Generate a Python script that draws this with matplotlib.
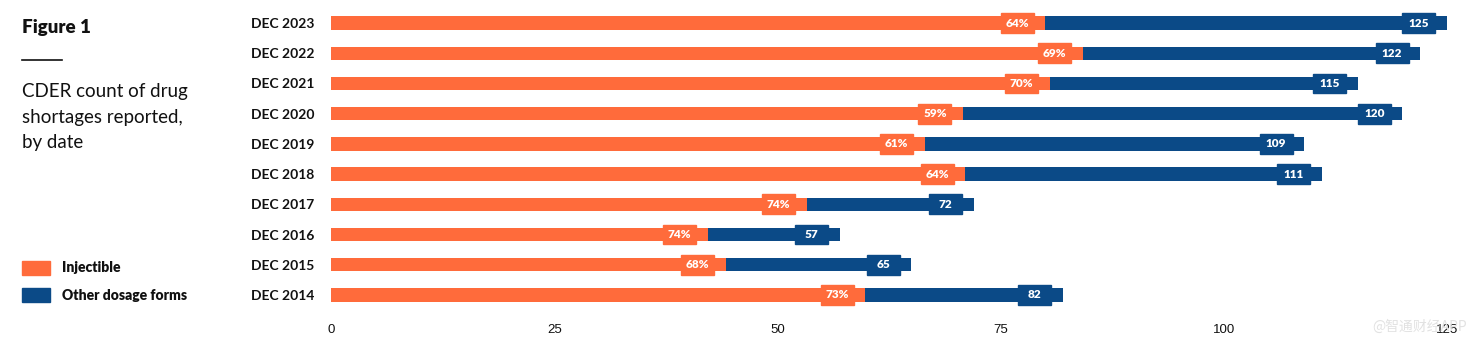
import numpy as np
import matplotlib.pyplot as plt
from matplotlib.patches import Rectangle

# data, bottom to top
years = ['DEC 2014', 'DEC 2015', 'DEC 2016', 'DEC 2017', 'DEC 2018',
         'DEC 2019', 'DEC 2020', 'DEC 2021', 'DEC 2022', 'DEC 2023']
totals = [82, 65, 57, 72, 111, 109, 120, 115, 122, 125]
inj_pct = [73, 68, 74, 74, 64, 61, 59, 70, 69, 64]
ticks = [0, 25, 50, 75, 100, 125]

orange = '#FF6B3B'
blue = '#0B4A87'
dark = '#111111'

totals = np.array(totals, dtype=float)
injectible = totals * np.array(inj_pct) / 100.0
other = totals - injectible
y = np.arange(len(years))

plt.rcParams['font.family'] = ['Lato', 'DejaVu Sans']

W, H = 1477, 345
fig = plt.figure(figsize=(W / 100, H / 100), dpi=100)

x0, x125 = 331, 1447
ppu = (x125 - x0) / 125
xmax = 127
ax = fig.add_axes([x0 / W, 35 / H, (xmax * ppu) / W, 302 / H])

bh = 0.44
ax.barh(y, injectible, height=bh, color=orange, zorder=2)
ax.barh(y, other, left=injectible, height=bh, color=blue, zorder=2)

box_w = 3.7
box_h = 0.66
gap = 1.3
for yi, inj, tot, p in zip(y, injectible, totals, inj_pct):
    r = inj - gap
    ax.add_patch(Rectangle((r - box_w, yi - box_h / 2), box_w, box_h,
                           color=orange, zorder=3))
    ax.text(r - box_w / 2, yi, f'{p}%', color='white', fontsize=8.5,
            fontweight='heavy', ha='center', va='center', zorder=4)
    r = tot - gap
    ax.add_patch(Rectangle((r - box_w, yi - box_h / 2), box_w, box_h,
                           color=blue, zorder=3))
    ax.text(r - box_w / 2, yi, f'{int(tot)}', color='white', fontsize=8.5,
            fontweight='heavy', ha='center', va='center', zorder=4)

ax.set_xlim(0, xmax)
ax.set_ylim(-0.5, len(years) - 0.5)
ax.set_xticks(ticks)
ax.set_xticklabels([str(t) for t in ticks], fontsize=9.5, color=dark,
                   family=['Liberation Sans Narrow', 'Liberation Sans', 'DejaVu Sans'])
ax.set_yticks(y)
ax.set_yticklabels(years, fontsize=10, fontweight='bold', color=dark)
for lab in ax.get_yticklabels():
    lab.set_ha('left')
ax.tick_params(axis='y', length=0, pad=(x0 - 251) * 0.72)
ax.tick_params(axis='x', length=0, pad=(330 - 310 - 6) * 0.72)
for s in ax.spines.values():
    s.set_visible(False)

# left panel
fig.text(22 / W, 1 - 28 / H, 'Figure 1', fontsize=13.5, fontweight='heavy',
         color=dark, ha='left', va='center')
fig.add_artist(plt.Line2D([22 / W, 62 / W], [1 - 60 / H, 1 - 60 / H],
                          color=dark, lw=1.2))
fig.text(22 / W, 1 - 83 / H, 'CDER count of drug\nshortages reported,\nby date',
         fontsize=13.5, color=dark, ha='left', va='top', linespacing=1.62)

for i, (lab, col) in enumerate([('Injectible', orange), ('Other dosage forms', blue)]):
    yc = 268 + i * 27
    fig.add_artist(Rectangle((22 / W, 1 - (yc + 7) / H), 28 / W, 14 / H,
                             color=col, transform=fig.transFigure))
    fig.text(62 / W, 1 - yc / H, lab, fontsize=10, fontweight='heavy',
             color=dark, ha='left', va='center')

fig.text(1467 / W, 1 - 327 / H, '@智通财经APP', fontsize=10, color='#e2e2e2',
         ha='right', va='center', family=['Noto Sans CJK SC', 'DejaVu Sans'])

fig.savefig('out.png', dpi=100, facecolor='white')
